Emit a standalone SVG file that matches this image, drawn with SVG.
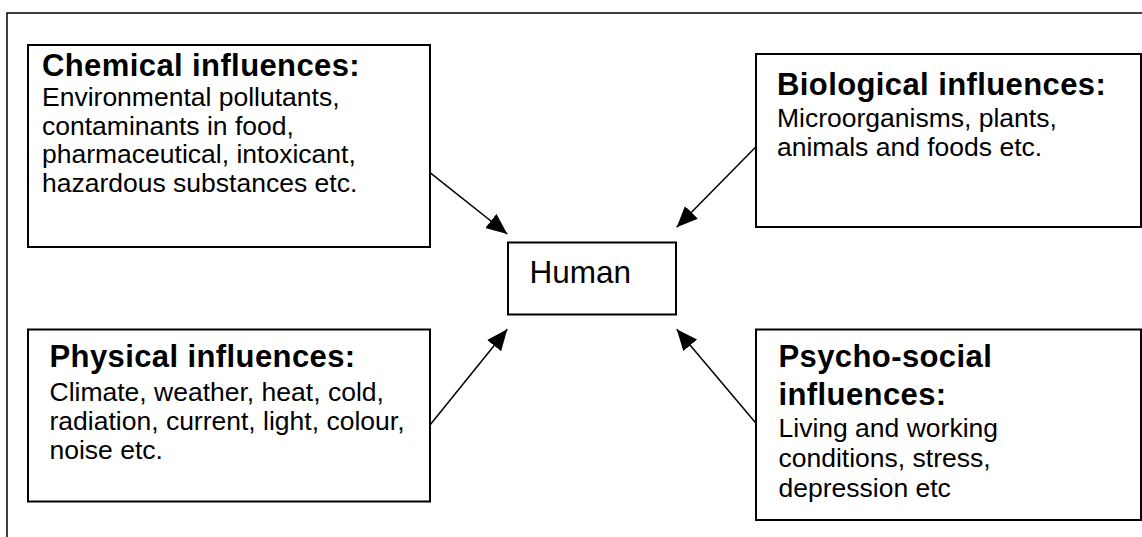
<svg xmlns="http://www.w3.org/2000/svg" width="1142" height="537" viewBox="0 0 1142 537">
  <style>
    .box { fill: #ffffff; stroke: #000000; stroke-width: 2; }
    .frame { fill: none; stroke: #000000; stroke-width: 1.5; }
    .head { font-family: "Liberation Sans", Arial, sans-serif; font-weight: bold; font-size: 31px; letter-spacing: 0.4px; fill: #000; }
    .body { font-family: "Liberation Sans", Arial, sans-serif; font-size: 26.5px; fill: #000; }
    .human { font-family: "Liberation Sans", Arial, sans-serif; font-size: 31.5px; fill: #000; }
    .conn { stroke: #000000; stroke-width: 1.5; fill: none; marker-end: url(#arrow); }
  </style>
  <defs>
    <marker id="arrow" markerUnits="userSpaceOnUse" markerWidth="22" markerHeight="20" refX="21" refY="9" orient="auto">
      <path d="M0,0 L21,9 L0,18 z" fill="#000000"/>
    </marker>
  </defs>
  <rect width="1142" height="537" fill="#ffffff"/>
  <rect class="frame" x="7" y="13" width="1145" height="540"/>

  <g id="connectors">
    <line class="conn" x1="430" y1="172.7" x2="507.3" y2="234"/>
    <line class="conn" x1="756" y1="146.7" x2="676.7" y2="227.3"/>
    <line class="conn" x1="430" y1="425" x2="507.3" y2="329.3"/>
    <line class="conn" x1="756" y1="423.3" x2="676.7" y2="329.3"/>
  </g>

  <g id="chemical">
    <rect class="box" x="28" y="45" width="402" height="202"/>
    <text class="head" x="42" y="76">Chemical influences:</text>
    <text class="body" x="42" y="106">Environmental pollutants,</text>
    <text class="body" x="42" y="134.7">contaminants in food,</text>
    <text class="body" x="42" y="163.4">pharmaceutical, intoxicant,</text>
    <text class="body" x="42" y="192.1">hazardous substances etc.</text>
  </g>

  <g id="biological">
    <rect class="box" x="756" y="54" width="385" height="173"/>
    <text class="head" x="777" y="95">Biological influences:</text>
    <text class="body" x="777" y="126.5">Microorganisms, plants,</text>
    <text class="body" x="777" y="156">animals and foods etc.</text>
  </g>

  <g id="human">
    <rect class="box" x="508" y="242.5" width="168" height="72"/>
    <text class="human" x="529.5" y="283.3">Human</text>
  </g>

  <g id="physical">
    <rect class="box" x="28" y="329.5" width="402" height="172"/>
    <text class="head" x="49.5" y="367.3">Physical influences:</text>
    <text class="body" x="49.5" y="400.7">Climate, weather, heat, cold,</text>
    <text class="body" x="49.5" y="430">radiation, current, light, colour,</text>
    <text class="body" x="49.5" y="459.3">noise etc.</text>
  </g>

  <g id="psychosocial">
    <rect class="box" x="756" y="329.5" width="385" height="190.5"/>
    <text class="head" x="778.5" y="367.3">Psycho-social</text>
    <text class="head" x="778.5" y="405">influences:</text>
    <text class="body" x="778.5" y="437.3">Living and working</text>
    <text class="body" x="778.5" y="467.3">conditions, stress,</text>
    <text class="body" x="778.5" y="496.7">depression etc</text>
  </g>
</svg>
